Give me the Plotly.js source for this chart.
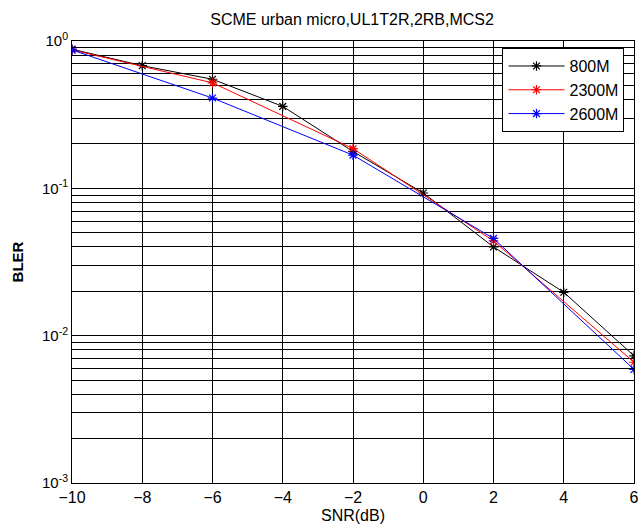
<!DOCTYPE html>
<html>
<head>
<meta charset="utf-8">
<script src="https://cdn.plot.ly/plotly-3.0.1.min.js"></script>
<style>html,body{margin:0;padding:0;background:#fff;}#chart{width:639px;height:527px;}</style>
</head>
<body>
<div id="chart"></div>
<script>
// Data
var snr800 = [-10, -8, -6, -4, -2, 0, 2, 4, 6];
var bler800 = [0.88, 0.68, 0.55, 0.36, 0.178, 0.093, 0.040, 0.0197, 0.0073];
var snr2300 = [-10, -6, -2, 2, 6];
var bler2300 = [0.87, 0.52, 0.186, 0.044, 0.0066];
var snr2600 = [-10, -6, -2, 2, 6];
var bler2600 = [0.87, 0.41, 0.168, 0.0457, 0.0059];
var xTicks = [-10, -8, -6, -4, -2, 0, 2, 4, 6];
var decades = [-3, -2, -1, 0];

// y tick values: powers of ten plus 2..9 within each decade
var yVals = [], yText = [];
decades.forEach(function (d) {
  yVals.push(Math.pow(10, d));
  yText.push('10<sup>' + d + '</sup>');
  if (d < 0) {
    for (var m = 2; m <= 9; m++) {
      yVals.push(m * Math.pow(10, d));
      yText.push('');
    }
  }
});

function tr(x, y, name, color) {
  return {
    x: x, y: y, name: name, type: 'scatter', mode: 'lines+markers',
    line: {color: color, width: 1},
    marker: {symbol: 'asterisk-open', size: 8, color: color, line: {color: color, width: 1.2}}
  };
}

var data = [
  tr(snr800, bler800, '800M', '#000000'),
  tr(snr2300, bler2300, '2300M', '#ff0000'),
  tr(snr2600, bler2600, '2600M', '#0000ff')
];

var fam = 'Liberation Sans, Arial, sans-serif';

var layout = {
  width: 639, height: 527,
  margin: {l: 72, r: 5, t: 41, b: 44},
  paper_bgcolor: '#fff', plot_bgcolor: '#fff',
  font: {family: fam, color: '#000', size: 15},
  title: {text: 'SCME urban micro,UL1T2R,2RB,MCS2', font: {family: fam, size: 16, color: '#000'},
          x: 0.551, xanchor: 'center', y: 0.964, yanchor: 'middle'},
  showlegend: true,
  legend: {x: 0.766, y: 0.984, xanchor: 'left', yanchor: 'top', bgcolor: '#fff',
           bordercolor: '#000', borderwidth: 1, font: {family: fam, size: 16, color: '#000'},
           itemwidth: 56},
  xaxis: {
    range: [-10, 6], tickvals: xTicks, ticks: 'inside', ticklen: 4, tickcolor: '#000',
    showline: true, linecolor: '#000', linewidth: 1, mirror: 'ticks',
    showgrid: true, gridcolor: '#000', gridwidth: 1, zeroline: false,
    tickfont: {family: fam, size: 16, color: '#000'},
    title: {text: 'SNR(dB)', font: {family: fam, size: 16, color: '#000'}, standoff: 4}
  },
  yaxis: {
    type: 'log', range: [-3, 0], tickvals: yVals, ticktext: yText,
    ticks: 'inside', ticklen: 4, tickcolor: '#000',
    showline: true, linecolor: '#000', linewidth: 1, mirror: 'ticks',
    showgrid: true, gridcolor: '#000', gridwidth: 1, zeroline: false,
    tickfont: {family: fam, size: 15, color: '#000'},
    title: {text: '<b>BLER</b>', font: {family: fam, size: 15, color: '#000'}, standoff: 14}
  }
};

Plotly.newPlot('chart', data, layout, {displayModeBar: false, staticPlot: true});
</script>
</body>
</html>
